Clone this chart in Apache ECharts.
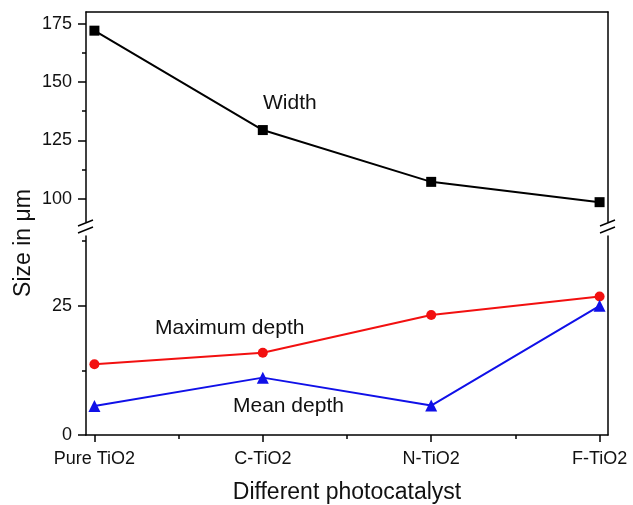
<!DOCTYPE html>
<html>
<head>
<meta charset="utf-8">
<script src="https://cdn.jsdelivr.net/npm/echarts@6/dist/echarts.min.js"></script>
<style>
  html, body { margin: 0; padding: 0; background: #fff; }
  #chart { width: 633px; height: 505px; }
</style>
</head>
<body>
<div id="chart"></div>
<script>
// 数据
const categories = ["Pure TiO2", "C-TiO2", "N-TiO2", "F-TiO2"];
const widthData = [172, 129.4, 107.2, 98.5];
const maxDepth = [13.7, 15.9, 23.2, 26.8];
const meanDepth = [5.6, 11.1, 5.7, 25];
const upperTicks = [100, 125, 150, 175];
const upperMinor = [112.5, 137.5, 162.5];
const lowerTicks = [0, 25];
const lowerMinor = [12.5, 37.5];

const font = "Liberation Sans, Arial, sans-serif";
const toXY = (arr) => arr.map((v, i) => [i, v]);

const myChart = echarts.init(document.getElementById("chart"));

// 公共的坐标轴线样式
const axisLine = { show: true, onZero: false, lineStyle: { color: "#000", width: 1.5 } };
const noLine = { show: false, onZero: false };

// x轴：上面格子只画框线，下面格子画刻度和标签
const xAxes = [
  { gridIndex: 0, type: "value", min: -0.05, max: 3.05, position: "top",
    axisLine, axisTick: { show: false }, axisLabel: { show: false }, splitLine: { show: false } },
  { gridIndex: 0, type: "value", min: -0.05, max: 3.05, position: "bottom",
    axisLine: noLine, axisTick: { show: false }, axisLabel: { show: false }, splitLine: { show: false } },
  { gridIndex: 1, type: "value", min: -0.05, max: 3.05, position: "bottom",
    axisLine,
    axisTick: { show: true, length: 7, customValues: [0, 1, 2, 3], lineStyle: { color: "#000", width: 1.5 } },
    axisLabel: { customValues: [0, 1, 2, 3], formatter: (v) => categories[Math.round(v)],
      fontSize: 18, color: "#111", fontFamily: font, margin: 15 },
    splitLine: { show: false },
    name: "Different photocatalyst", nameLocation: "middle", nameGap: 46,
    nameTextStyle: { fontSize: 23, color: "#111", fontFamily: font } },
  // 次刻度
  { gridIndex: 1, type: "value", min: -0.05, max: 3.05, position: "bottom",
    axisLine: noLine,
    axisTick: { show: true, length: 4, customValues: [0.5, 1.5, 2.5], lineStyle: { color: "#000", width: 1.5 } },
    axisLabel: { show: false }, splitLine: { show: false } },
];

function yAxisPair(grid, min, max, major, minor) {
  return [
    { gridIndex: grid, type: "value", min, max, position: "left",
      axisLine,
      axisTick: { show: true, length: 8, customValues: major, lineStyle: { color: "#000", width: 1.5 } },
      axisLabel: { customValues: major, fontSize: 18, color: "#111", fontFamily: font, margin: 14 },
      splitLine: { show: false } },
    { gridIndex: grid, type: "value", min, max, position: "left",
      axisLine: noLine,
      axisTick: { show: true, length: 4, customValues: minor, lineStyle: { color: "#000", width: 1.5 } },
      axisLabel: { show: false }, splitLine: { show: false } },
    { gridIndex: grid, type: "value", min, max, position: "right",
      axisLine, axisTick: { show: false }, axisLabel: { show: false }, splitLine: { show: false } },
  ];
}

const yAxes = [
  ...yAxisPair(0, 90, 180, upperTicks, upperMinor),
  ...yAxisPair(1, 0, 38.5, lowerTicks, lowerMinor),
];

// 断轴标记
function breakMarks(x) {
  return [223, 230].map((y) => ({
    type: "line",
    shape: { x1: x - 8, y1: y + 3, x2: x + 7, y2: y - 3 },
    style: { stroke: "#000", lineWidth: 1.5 },
  }));
}

function label(text, x, y) {
  return { type: "text", left: x, top: y,
    style: { text, fontSize: 21, fill: "#111", fontFamily: font } };
}

myChart.setOption({
  animation: false,
  grid: [
    { left: 86, right: 25, top: 12, height: 210 },
    { left: 86, right: 25, top: 236, bottom: 66 },
  ],
  xAxis: xAxes,
  yAxis: yAxes,
  series: [
    { name: "Width", type: "line", xAxisIndex: 0, yAxisIndex: 0, data: toXY(widthData),
      symbol: "rect", symbolSize: 10, lineStyle: { color: "#000", width: 2 }, itemStyle: { color: "#000" } },
    { name: "Maximum depth", type: "line", xAxisIndex: 2, yAxisIndex: 3, data: toXY(maxDepth),
      symbol: "circle", symbolSize: 10, lineStyle: { color: "#f21010", width: 2 }, itemStyle: { color: "#f21010" } },
    { name: "Mean depth", type: "line", xAxisIndex: 2, yAxisIndex: 3, data: toXY(meanDepth),
      symbol: "triangle", symbolSize: 12, lineStyle: { color: "#1010e8", width: 2 }, itemStyle: { color: "#1010e8" } },
  ],
  graphic: [
    ...breakMarks(86),
    ...breakMarks(608),
    label("Width", 263, 93),
    label("Maximum depth", 155, 318),
    label("Mean depth", 233, 396),
    { type: "text", x: 24, y: 243, rotation: Math.PI / 2,
      style: { text: "Size in μm", fontSize: 23, fill: "#111", fontFamily: font,
        textAlign: "center", textVerticalAlign: "middle" } },
  ],
});
</script>
</body>
</html>
